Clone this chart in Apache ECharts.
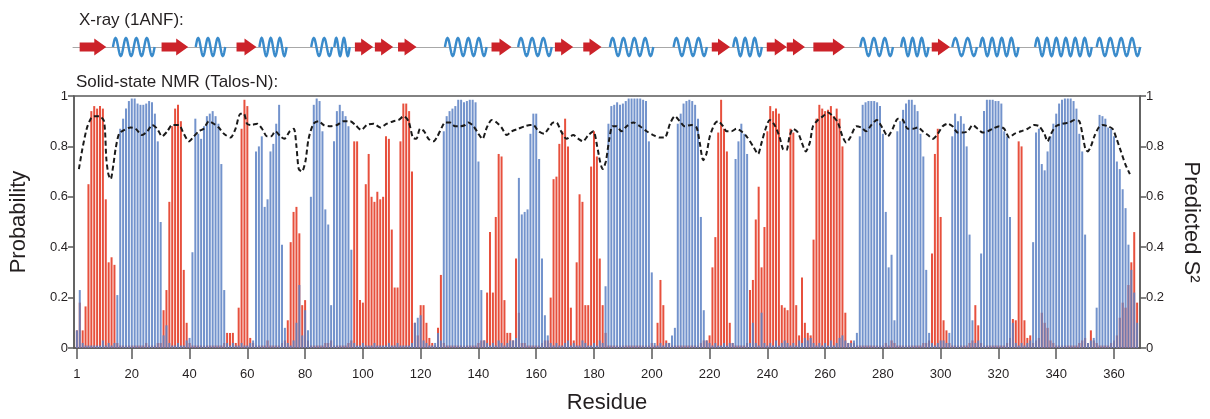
<!DOCTYPE html>
<html><head><meta charset="utf-8">
<script src="https://cdn.jsdelivr.net/npm/echarts@6/dist/echarts.min.js"></script>
<style>html,body{margin:0;padding:0;background:#fff}#c{width:1210px;height:419px}</style>
</head><body><div id="c"></div>
<script>
// Helix (blue) probability per residue 1..368
const helixProb = [
.07,.23,.02,.01,.01,.01,.01,.01,.01,.03,
.01,.02,.01,.02,.21,.87,.91,.95,.98,.99,
.99,.97,.965,.965,.97,.98,.975,.93,.82,.5,
.05,.09,.02,.01,.01,.02,.01,.01,.03,.04,
.38,.91,.85,.83,.88,.92,.93,.94,.92,.89,
.73,.23,.02,.01,.02,.01,.01,.02,.01,.01,
.02,.03,.78,.8,.84,.56,.59,.78,.81,.89,
.965,.41,.08,.02,.01,.03,.1,.25,.05,.15,
.07,.6,.965,.99,.98,.86,.55,.49,.17,.82,
.94,.965,.94,.92,.88,.39,.02,.01,.01,.02,
.01,.01,.01,.02,.01,.01,.01,.01,.02,.01,
.01,.02,.01,.01,.01,.01,.02,.1,.12,.13,
.03,.02,.01,.01,.02,.06,.03,.86,.92,.94,
.95,.96,.985,.985,.975,.98,.985,.985,.975,.74,
.23,.03,.02,.01,.02,.01,.03,.02,.01,.02,
.03,.03,.04,.675,.53,.54,.55,.85,.93,.93,
.75,.355,.13,.05,.02,.01,.02,.01,.01,.02,
.03,.01,.02,.01,.01,.03,.02,.01,.01,.02,
.01,.03,.02,.245,.89,.96,.965,.975,.965,.97,
.98,.99,.99,.99,.99,.99,.985,.98,.82,.3,
.02,.01,.02,.01,.02,.02,.05,.08,.89,.93,
.97,.98,.985,.98,.965,.91,.52,.15,.03,.02,
.01,.02,.01,.01,.02,.01,.02,.02,.75,.82,
.89,.85,.77,.02,.1,.02,.01,.14,.02,.01,
.02,.01,.03,.01,.02,.03,.02,.01,.02,.01,
.03,.02,.04,.03,.04,.02,.01,.02,.01,.02,
.01,.03,.01,.02,.04,.05,.03,.02,.02,.03,
.06,.84,.965,.975,.98,.98,.98,.975,.96,.85,
.54,.32,.37,.11,.86,.9,.945,.97,.985,.985,
.965,.94,.85,.76,.31,.06,.02,.01,.02,.03,
.03,.02,.06,.84,.93,.9,.92,.89,.8,.45,
.11,.02,.03,.375,.94,.985,.985,.985,.98,.98,
.97,.86,.84,.52,.1,.02,.01,.02,.01,.02,
.03,.42,.855,.87,.73,.705,.78,.84,.89,.93,
.97,.985,.99,.99,.99,.98,.95,.85,.78,.45,
.02,.03,.04,.16,.925,.92,.91,.875,.87,.84,
.74,.71,.63,.555,.41,.31,.22,.1
];
// Strand (red) probability per residue 1..368
const strandProb = [
.07,.18,.07,.165,.65,.94,.96,.95,.96,.95,
.59,.34,.36,.33,.02,.01,.01,.01,.01,.01,
.01,.01,.01,.01,.02,.01,.01,.01,.02,.02,
.15,.23,.58,.88,.95,.965,.9,.31,.1,.02,
.01,.01,.01,.01,.01,.01,.01,.01,.01,.01,
.01,.02,.06,.06,.06,.02,.16,.87,.985,.96,
.04,.02,.01,.01,.01,.01,.03,.01,.01,.01,
.01,.02,.03,.11,.42,.54,.56,.455,.17,.19,
.03,.01,.01,.01,.01,.01,.02,.02,.03,.01,
.01,.01,.01,.01,.02,.03,.82,.82,.19,.18,
.65,.77,.6,.58,.62,.59,.6,.84,.83,.47,
.24,.24,.82,.97,.97,.94,.7,.1,.05,.17,
.17,.1,.04,.02,.01,.08,.29,.02,.01,.01,
.01,.01,.01,.01,.01,.01,.01,.01,.01,.02,
.03,.03,.22,.46,.22,.52,.77,.76,.19,.06,
.06,.03,.355,.14,.02,.02,.01,.01,.01,.01,
.01,.02,.03,.03,.2,.67,.68,.81,.86,.91,
.8,.16,.03,.34,.61,.58,.17,.17,.72,.86,
.76,.355,.17,.06,.01,.01,.01,.01,.01,.01,
.01,.01,.01,.01,.01,.01,.01,.01,.01,.02,
.01,.1,.27,.17,.03,.02,.01,.01,.01,.01,
.01,.01,.01,.01,.01,.01,.02,.03,.03,.05,
.32,.44,.855,.985,.87,.78,.1,.02,.01,.01,
.01,.01,.02,.23,.27,.51,.64,.32,.48,.86,
.96,.94,.95,.93,.17,.16,.15,.87,.855,.17,
.05,.28,.1,.06,.05,.43,.91,.965,.95,.94,
.945,.96,.92,.95,.91,.8,.14,.02,.03,.02,
.01,.01,.01,.01,.01,.01,.01,.01,.01,.01,
.02,.01,.03,.02,.01,.01,.01,.01,.01,.01,
.01,.01,.01,.02,.02,.03,.375,.77,.87,.52,
.11,.07,.02,.01,.01,.01,.01,.01,.01,.02,
.03,.17,.09,.02,.01,.01,.01,.01,.01,.01,
.01,.01,.02,.04,.115,.11,.82,.8,.11,.04,
.05,.02,.03,.04,.14,.1,.08,.03,.02,.01,
.01,.01,.01,.01,.01,.01,.01,.02,.03,.04,
.02,.07,.03,.02,.01,.01,.01,.01,.02,.03,
.05,.12,.18,.16,.25,.34,.46,.18
];
// Predicted S2 (dashed line), read at these residues
const s2Residue = [1.7,2.9,4.4,5.8,6.9,8.7,10.4,11.2,11.9,12.7,13.6,14.4,15.6,17.3,19.6,21.3,23.6,25.4,27.1,28.8,30.5,32.3,34,36.3,38,39.8,41.5,43.2,44.9,46.7,48.4,50.1,51.9,54.2,55.9,57.6,58.8,59.9,61.3,63.4,65.1,66.8,68.2,69.7,71.4,72.8,74.7,76.1,77,77.8,78.9,80.1,81.2,82.9,84.7,86.4,88.7,91,93.3,95.6,97.4,99.4,101.4,103.7,106,108.3,110.6,112.4,114.1,115.8,117.3,118.5,119.8,121.2,122.7,124.4,125.8,127.3,128.5,130.2,131.9,133.7,135.4,136.5,138.3,140,141.4,142.9,144.6,146.3,148,149.8,151.5,153.8,156.1,157.9,159,160.8,162.7,164.2,165.9,167,168.6,170.5,172.8,174.6,176.1,178.1,179.8,181.1,182.1,183,184.1,185.3,186.4,187.8,189.5,191.3,193.6,195.9,198.2,200.5,202.8,204.5,206.3,208,209.7,211.4,213.7,215.5,216.6,217.8,218.9,220.1,221.8,222.9,224.7,225.9,227.6,229.3,231,232.8,235.1,236.8,237.9,239.4,240.8,242.5,244.3,245.4,246.6,247.7,248.9,250.6,252.1,253.3,254.7,255.8,257.5,259.3,261,262.7,264.4,266,267.3,268.7,270.8,272.5,274.2,276,277.9,280,281.7,283.4,285.2,286.9,288.6,290.4,292.1,293.8,295.6,297.3,299,300.7,302.4,304.1,305.9,307.7,309.4,311.1,312.8,314.6,316.3,318,320.3,322,323.8,325.5,327.8,330.1,332.4,334.1,335.9,337,338.2,339.9,342.2,344.5,346.3,348,349.2,350.1,350.9,352,353.2,354.7,356.1,357.8,359.5,360.9,362.4,363.9,365.5];
const s2Value = [.71,.79,.87,.91,.92,.92,.90,.75,.69,.67,.725,.79,.85,.865,.875,.87,.845,.86,.885,.87,.84,.86,.885,.885,.85,.82,.84,.86,.87,.90,.89,.875,.85,.835,.87,.93,.93,.89,.885,.89,.87,.84,.84,.86,.84,.83,.86,.87,.80,.71,.70,.74,.83,.89,.90,.885,.88,.885,.90,.90,.885,.865,.885,.89,.875,.89,.90,.905,.92,.90,.835,.83,.87,.86,.83,.82,.84,.875,.895,.895,.88,.88,.885,.895,.88,.85,.83,.875,.905,.895,.875,.845,.86,.87,.88,.885,.885,.86,.85,.87,.895,.895,.86,.83,.845,.83,.82,.845,.86,.80,.74,.71,.74,.83,.88,.88,.86,.88,.895,.88,.86,.845,.835,.835,.89,.92,.90,.88,.885,.875,.815,.745,.77,.84,.89,.90,.88,.86,.86,.87,.86,.84,.80,.77,.81,.87,.905,.885,.835,.79,.785,.84,.87,.855,.81,.78,.815,.88,.905,.92,.935,.92,.895,.84,.815,.835,.88,.875,.86,.885,.905,.87,.84,.87,.91,.905,.87,.87,.875,.86,.845,.83,.85,.88,.89,.88,.855,.855,.86,.885,.87,.855,.86,.87,.88,.87,.835,.85,.86,.87,.885,.88,.85,.82,.85,.88,.89,.895,.905,.90,.84,.79,.78,.80,.84,.875,.885,.88,.87,.83,.78,.73,.69];
// X-ray secondary structure (1ANF): start, end residue and type (E strand, H helix)
const ssStart = [2.3,13.8,30.6,42.4,56.5,64.4,82.3,90.3,97.4,104.3,112.3,128.5,144.6,153.8,166.5,176.3,185.5,207.5,220.7,228.1,239.7,246.6,255.8,272,286.1,296.7,303.8,313.4,332.4,353.7];
const ssEnd   = [11.5,28.2,39.8,52.6,63.4,73.8,89.5,95.6,103.7,110.6,118.7,142.9,151.5,165.4,172.8,182.6,200.5,219,227,238,246.6,252.9,266.7,283.3,295.6,303,312.3,326.7,352,368.7];
const ssType  = ['E','H','E','H','E','H','H','H','E','E','E','H','E','H','E','E','H','H','E','H','E','E','E','H','H','E','H','H','H','H'];
const xTicks = [1,20,40,60,80,100,120,140,160,180,200,220,240,260,280,300,320,340,360];

const chart = echarts.init(document.getElementById('c'), null, {renderer:'canvas'});
const sans = "'Liberation Sans',Arial,sans-serif";
const axisCol = '#5a5a5a';

function renderSS(params, api) {
  const s = api.value(0), e = api.value(1), t = ssType[params.dataIndex];
  const p0 = api.coord([s, 0]), p1 = api.coord([e, 0]);
  const x0 = p0[0], x1 = p1[0], cy = p0[1], w = x1 - x0;
  if (t === 'E') {
    const hl = Math.min(12, w * 0.72), xh = x1 - hl;
    return {type:'polygon', shape:{points:[[x0,cy-4.5],[xh,cy-4.5],[xh,cy-8.5],[x1,cy],[xh,cy+8.5],[xh,cy+4.5],[x0,cy+4.5]]},
      style:{fill:'#cc2229'}};
  }
  const n = Math.max(2, Math.round(w / 10));
  const steps = n * 20, pts = [];
  for (let k = 0; k <= steps; k++) {
    const f = k / steps;
    pts.push([x0 + f * w, cy - 9 * Math.sin(2 * Math.PI * n * f)]);
  }
  return {type:'polyline', shape:{points:pts}, style:{stroke:'#3a8bcb', lineWidth:2.4, fill:null}};
}

const option = {
  animation: false,
  backgroundColor: '#fff',
  title: [
    {text:'X-ray (1ANF):', left:74, top:7, textStyle:{fontSize:17, fontWeight:'normal', color:'#231f20', fontFamily:sans}},
    {text:'Solid-state NMR (Talos-N):', left:71, top:69, textStyle:{fontSize:17, fontWeight:'normal', color:'#231f20', fontFamily:sans}}
  ],
  grid: [
    {left:73, right:69, top:96, bottom:66, show:true, borderColor:axisCol, borderWidth:1.5, backgroundColor:'transparent'},
    {left:73, right:69, top:37, height:20}
  ],
  xAxis: [
    {type:'value', gridIndex:0, min:0, max:369, name:'Residue', nameLocation:'middle', nameGap:44,
     nameTextStyle:{fontSize:22, color:'#231f20', fontFamily:sans},
     axisLine:{show:true, lineStyle:{color:axisCol, width:1.5}},
     axisTick:{show:true, length:11, customValues:xTicks, lineStyle:{color:axisCol, width:1.5}},
     axisLabel:{customValues:xTicks, margin:20, fontSize:13, color:'#231f20', fontFamily:sans},
     splitLine:{show:false}},
    {type:'value', gridIndex:1, min:0, max:369,
     axisLine:{show:true, onZero:true, lineStyle:{color:'#a8a8a8', width:1}},
     axisTick:{show:false}, axisLabel:{show:false}, splitLine:{show:false}}
  ],
  yAxis: [
    {type:'value', gridIndex:0, min:0, max:1, interval:0.2, position:'left', name:'Probability',
     nameLocation:'middle', nameGap:44, nameTextStyle:{fontSize:22, color:'#231f20', fontFamily:sans},
     axisLine:{show:true, lineStyle:{color:axisCol, width:1.5}},
     axisTick:{show:true, length:6, lineStyle:{color:axisCol, width:1.5}},
     axisLabel:{margin:6, fontSize:13, color:'#231f20', fontFamily:sans},
     splitLine:{show:false}},
    {type:'value', gridIndex:0, min:0, max:1, interval:0.2, position:'right', name:'Predicted S\u00B2',
     nameLocation:'middle', nameGap:40, nameRotate:-90, nameTextStyle:{fontSize:22, color:'#231f20', fontFamily:sans},
     axisLine:{show:true, lineStyle:{color:axisCol, width:1.5}},
     axisTick:{show:true, length:6, lineStyle:{color:axisCol, width:1.5}},
     axisLabel:{margin:6, fontSize:13, color:'#231f20', fontFamily:sans},
     splitLine:{show:false}},
    {type:'value', gridIndex:1, min:-1, max:1, show:false}
  ],
  series: [
    {name:'Strand', type:'bar', xAxisIndex:0, yAxisIndex:0, barWidth:2, barGap:'-100%',
     data: strandProb.map((v,i)=>[i+1, v]), itemStyle:{color:'#e5412c', opacity:0.92}, z:2},
    {name:'Helix', type:'bar', xAxisIndex:0, yAxisIndex:0, barWidth:2, barGap:'-100%',
     data: helixProb.map((v,i)=>[i+1, v]), itemStyle:{color:'#5b80c3', opacity:0.85}, z:3},
    {name:'S2', type:'line', xAxisIndex:0, yAxisIndex:1, smooth:0.25, symbol:'none',
     data: s2Residue.map((r,i)=>[r, s2Value[i]]),
     lineStyle:{color:'#1a1a1a', width:2, type:[5,3]}, z:5},
    {name:'SS', type:'custom', xAxisIndex:1, yAxisIndex:2, renderItem:renderSS,
     encode:{x:[0,1]}, data: ssStart.map((s,i)=>[s, ssEnd[i]]), z:4}
  ]
};
chart.setOption(option);
</script>
</body></html>
